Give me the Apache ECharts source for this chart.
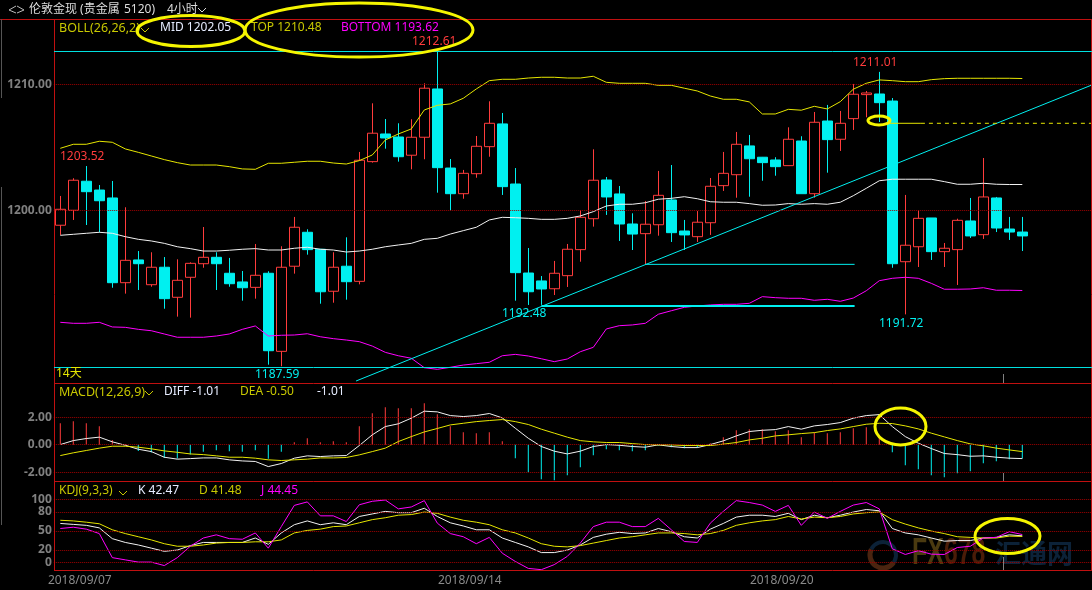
<!DOCTYPE html>
<html>
<head>
<meta charset="utf-8">
<title>伦敦金现 4小时</title>
<style>
html,body{margin:0;padding:0;background:#000;}
#main{width:1092px;height:590px;}
</style>
<script src="https://cdn.jsdelivr.net/npm/echarts@6/dist/echarts.min.js"></script>
</head>
<body>
<div id="main"></div>
<script>
// 4h candles
var opens = [1198.81,1200.00,1202.31,1201.61,1200.98,1194.24,1196.05,1194.08,1195.47,1193.08,1194.67,1195.75,1196.26,1194.99,1194.30,
  1193.87,1194.99,1188.78,1195.55,1198.25,1196.90,1193.56,1195.55,1194.35,1203.87,1206.07,1205.83,1204.38,1205.81,1209.65,
  1203.36,1201.32,1202.91,1205.06,1206.87,1202.09,1195.01,1194.38,1193.76,1194.80,1196.87,1199.33,1202.41,1201.30,1198.91,
  1198.14,1198.85,1200.82,1198.35,1197.90,1199.01,1201.96,1202.83,1205.12,1204.22,1204.00,1203.55,1205.51,1201.32,1207.10,
  1205.65,1207.29,1209.20,1209.25,1208.69,1195.91,1197.10,1199.39,1196.71,1196.87,1199.15,1198.06,1200.98,1198.51,1198.27];
var closes = [1200.08,1202.39,1201.48,1200.76,1194.24,1196.02,1195.75,1195.47,1192.97,1194.43,1195.78,1196.26,1195.75,1194.16,1193.84,
  1194.83,1188.83,1195.47,1198.65,1196.87,1193.52,1195.47,1194.32,1203.98,1206.13,1205.75,1204.26,1205.81,1209.71,1203.39,
  1201.32,1202.94,1205.09,1206.92,1201.88,1195.04,1193.52,1193.74,1194.99,1196.90,1199.44,1202.39,1201.06,1198.91,1198.11,
  1198.89,1201.19,1198.22,1198.04,1199.05,1201.91,1202.94,1205.25,1204.10,1203.79,1203.47,1205.65,1201.32,1207.00,1205.62,
  1206.92,1209.23,1209.33,1208.56,1195.75,1197.22,1199.36,1196.71,1196.98,1199.20,1197.96,1201.06,1198.59,1198.27,1197.96];
var lows = [1198.04,1199.23,1198.83,1198.25,1193.84,1193.37,1193.66,1193.92,1192.17,1191.54,1191.46,1195.43,1193.66,1193.92,1192.81,
  1192.97,1187.72,1187.59,1194.96,1196.47,1192.57,1192.65,1192.89,1194.11,1203.79,1204.90,1203.87,1203.26,1204.06,1201.40,
  1199.97,1200.92,1202.59,1204.26,1201.22,1192.81,1192.47,1192.48,1193.26,1193.90,1195.91,1198.70,1199.63,1197.56,1196.84,
  1195.70,1197.98,1197.48,1196.84,1197.48,1198.04,1201.54,1201.00,1201.08,1202.35,1202.75,1203.55,1201.32,1201.00,1202.99,
  1204.72,1206.39,1207.40,1207.02,1195.43,1191.72,1195.49,1196.05,1195.49,1194.06,1197.80,1197.72,1198.27,1197.64,1196.76];
var highs = [1201.14,1202.55,1203.52,1202.01,1202.33,1200.24,1196.76,1196.66,1196.28,1196.10,1195.86,1198.67,1196.66,1196.21,1195.17,
  1197.32,1195.15,1197.14,1199.47,1198.49,1196.92,1196.66,1197.85,1204.64,1208.51,1207.26,1206.92,1207.24,1210.10,1212.61,
  1204.08,1203.21,1205.91,1208.67,1207.74,1203.36,1197.00,1194.77,1195.97,1197.32,1200.02,1204.85,1202.65,1201.93,1199.76,
  1200.74,1203.13,1203.60,1199.23,1199.94,1202.57,1204.64,1206.23,1205.99,1204.24,1204.22,1206.60,1205.89,1207.82,1208.38,
  1207.90,1210.05,1209.49,1211.01,1208.93,1201.22,1200.02,1199.39,1197.40,1199.33,1200.98,1204.16,1201.06,1199.47,1199.47];

var bollTop = [1204.93,1205.25,1205.25,1205.49,1205.41,1204.88,1204.61,1204.32,1204.03,1203.79,1203.60,1203.60,1203.60,1203.47,1203.29,
  1203.26,1203.74,1203.74,1203.82,1203.90,1203.90,1203.76,1203.68,1203.95,1204.40,1205.59,1206.07,1206.47,1207.98,1208.35,
  1208.46,1208.91,1209.65,1210.31,1210.42,1210.42,1210.52,1210.58,1210.58,1210.52,1210.52,1210.66,1210.18,1210.10,1210.10,
  1210.10,1209.94,1209.94,1209.71,1209.49,1209.09,1208.83,1208.83,1208.62,1207.66,1207.66,1208.03,1207.96,1208.27,1208.06,
  1208.64,1209.63,1210.10,1210.37,1210.31,1210.23,1210.23,1210.39,1210.47,1210.50,1210.50,1210.50,1210.50,1210.50,1210.48];
var bollMid = [1198.01,1198.09,1198.17,1198.25,1198.17,1197.90,1197.69,1197.56,1197.37,1197.10,1196.95,1196.76,1196.76,1196.82,1196.90,
  1196.95,1196.84,1196.84,1196.98,1197.06,1196.90,1196.84,1196.68,1196.76,1196.90,1197.10,1197.24,1197.37,1197.69,1197.77,
  1198.11,1198.38,1198.65,1199.23,1199.44,1199.41,1199.36,1199.28,1199.28,1199.36,1199.55,1199.89,1200.34,1200.48,1200.48,
  1200.60,1200.88,1200.95,1201.08,1200.92,1200.68,1200.64,1200.64,1200.53,1200.40,1200.42,1200.53,1200.48,1200.53,1200.48,
  1200.64,1201.16,1201.75,1202.35,1202.47,1202.47,1202.47,1202.47,1202.28,1202.07,1202.07,1202.15,1202.07,1202.05,1202.05];
var bollBottom = [1191.09,1191.01,1191.01,1191.09,1190.72,1190.69,1190.53,1190.42,1190.16,1189.90,1189.90,1189.90,1190.00,1190.16,1190.53,
  1190.80,1190.00,1190.06,1190.08,1190.18,1189.94,1189.79,1189.68,1189.55,1189.20,1188.70,1188.43,1188.23,1187.48,1187.35,
  1187.51,1187.69,1187.80,1187.91,1188.43,1188.54,1188.41,1188.19,1187.96,1188.17,1188.75,1189.10,1190.56,1190.82,1190.88,
  1191.01,1191.73,1192.01,1192.28,1192.39,1192.47,1192.52,1192.52,1192.60,1193.13,1193.05,1193.00,1193.00,1192.84,1192.92,
  1192.76,1193.02,1193.60,1194.40,1194.59,1194.67,1194.59,1194.19,1193.72,1193.72,1193.74,1193.84,1193.64,1193.64,1193.62];

var macdHist = [1.56,1.71,1.56,1.35,0.35,0.06,-0.45,-0.57,-0.96,-1.00,-0.72,-0.52,-0.40,-0.47,-0.52,
  -0.40,-1.03,-0.52,0.18,0.47,0.18,0.25,0.18,1.35,2.29,2.73,2.65,2.65,3.02,2.22,
  1.35,0.91,0.84,0.91,0.25,-0.98,-2.00,-2.51,-2.58,-2.22,-1.64,-0.76,-0.33,-0.40,-0.47,
  -0.40,-0.08,-0.18,-0.25,-0.21,0.11,0.55,1.05,1.13,1.13,0.98,1.05,0.55,0.88,0.84,
  0.91,1.20,1.27,0.47,-0.55,-1.49,-1.78,-2.22,-2.36,-2.07,-1.93,-1.35,-1.20,-1.05,-1.01];
var macdDiff = [0.01,0.30,0.45,0.55,0.21,-0.04,-0.33,-0.50,-0.91,-1.05,-1.01,-0.96,-0.96,-1.10,-1.18,
  -1.22,-1.59,-1.37,-0.98,-0.81,-0.86,-0.81,-0.79,-0.06,0.72,1.32,1.52,1.93,2.44,2.39,
  2.12,2.05,2.12,2.27,1.95,1.20,0.47,-0.13,-0.47,-0.67,-0.47,-0.13,0.01,-0.04,-0.13,
  -0.18,-0.01,-0.13,-0.21,-0.21,0.01,0.28,0.64,0.96,1.05,1.10,1.32,1.13,1.37,1.47,
  1.61,1.93,2.12,2.19,1.32,0.59,0.11,-0.28,-0.64,-0.72,-0.84,-0.81,-0.91,-0.98,-1.01];
var macdDea = [-0.79,-0.59,-0.42,-0.25,-0.11,-0.11,-0.18,-0.30,-0.45,-0.55,-0.67,-0.72,-0.81,-0.91,-0.91,
  -0.98,-1.10,-1.15,-1.10,-1.05,-0.96,-0.96,-0.93,-0.74,-0.50,-0.25,0.23,0.59,0.93,1.18,
  1.44,1.56,1.68,1.76,1.83,1.68,1.47,1.13,0.84,0.55,0.30,0.21,0.16,0.16,0.08,
  0.01,-0.01,-0.01,-0.06,-0.06,-0.06,0.04,0.16,0.35,0.47,0.64,0.72,0.81,0.88,1.03,
  1.15,1.32,1.49,1.56,1.54,1.37,1.15,0.84,0.57,0.30,0.06,-0.08,-0.25,-0.38,-0.50];

var kdjK = [62,60.5,59,55,38,32,28,23,18,20,27,32,32,32,32,39,29,47,60,66,60,63,60,73,77,81,79,79,86,73,
  63,58,52,52,39,32,25,16,16,20,28,40,45,48,46,47,54,49,41,39,53,62,72,75,75,73,78,68,75,71,
  75,80,84,82,54,47,44,39,34,35,35,39,40,44,42.47];
var kdjD = [67,66,64,61.5,52,46,41,36,30,26,26,28,31,32,32,33,33,36,47,51,53,57,58,63,68,71,75,76,80,78,
  72,67,64,60,52,47,39,30,26,25,27,31,35,39,41,44,47,47,46,44,46,51,59,63,66,68,73,69,72,71,
  73,77,79,80,68,61,55,50,46,41,40,39,39,42,41.48];
var kdjJ = [54,56,53,46,8,4.5,1,1,-4.5,8,26,39,44,38,37,47,23,57,90.5,96,74,74,65,91.5,97,99,85,88,98,62.5,
  46,41,30,40,15,2,-9,-11,-3,10,31,57,64,64,57,57,70,52,33.5,32,62.5,81,98,95,91,81,90.5,59,80,70,
  81,91,95,85,22,13,19,13.5,13,24,26,39,40,49,44.45];

var priceTicks = [1200,1210];
var macdTicks = [2,0,-2];
var kdjTicks = [100,80,50,20,0];
var dateTickSlots = [1.5,31.5,55.5];
var dateTickLabels = ['2018/09/07','2018/09/14','2018/09/20'];

// drawn-on lines: [slot, price] ends
var trendLine = [[22.75,1186.42],[79.36,1209.97]];
var supportHigh = [[45,1195.70],[61.1,1195.70]];
var supportLow = [[37,1192.38],[61.1,1192.38]];
var gapSolid = [[63.8,1206.92],[66.2,1206.92]];
var gapDashed = [[66.2,1206.92],[79.3,1206.92]];

var RED = '#ff3c3c', CYAN = '#00f0f0', YEL = '#e6e600', WHT = '#f2f2f2', MAG = '#ff00ff';
var FONT = '"Noto Sans","Noto Sans CJK SC",sans-serif';

var candles = opens.map(function(o,i){ return [o,closes[i],lows[i],highs[i]]; });
// 5 empty slots on the right of the last candle
var slots = [];
for(var s=0;s<candles.length+5;s++){ slots.push(String(s)); }

function gridLines(ticks,xi,yi){
  return {type:'line',xAxisIndex:xi,yAxisIndex:yi,data:[],z:1,silent:true,
    markLine:{silent:true,symbol:'none',label:{show:false},animation:false,
      lineStyle:{color:'#a00000',type:'dotted',width:1},
      data:ticks.map(function(v){return {yAxis:v};})}};
}
function lineSeries(data,color,xi,yi,w){
  return {type:'line',xAxisIndex:xi,yAxisIndex:yi,data:data,showSymbol:false,symbol:'none',z:3,silent:true,
    lineStyle:{color:color,width:w||1},itemStyle:{color:color}};
}
function drawn(data,color,w,dash){
  var sr = lineSeries(data,color,3,0,w);
  sr.clip = false; sr.z = 4;
  if(dash){ sr.lineStyle.type = [4,4]; }
  return sr;
}
function yAxis(idx,min,max,ticks,fmt){
  return {type:'value',gridIndex:idx,min:min,max:max,position:'left',
    axisLine:{show:false},axisTick:{show:false},splitLine:{show:false},
    axisLabel:{customValues:ticks,color:'#808080',fontWeight:'bold',fontSize:12,fontFamily:FONT,margin:2,formatter:fmt}};
}
function text(str,x,y,color,size,bold){
  return {type:'text',x:x,y:y,z:50,silent:true,style:{text:str,fill:color,font:(bold?'bold ':'')+(size||12)+'px '+FONT,textVerticalAlign:'middle'}};
}
function hline(x1,x2,y,color,w){
  return {type:'line',z:20,silent:true,shape:{x1:x1,y1:y,x2:x2,y2:y},style:{stroke:color,lineWidth:w||1}};
}
function vline(x,y1,y2,color){
  return {type:'line',z:20,silent:true,shape:{x1:x,y1:y1,x2:x,y2:y2},style:{stroke:color,lineWidth:1}};
}
function chev(x,y,color){
  return {type:'polyline',z:50,silent:true,shape:{points:[[x,y],[x+4,y+4],[x+8,y]]},style:{stroke:color,fill:'none',lineWidth:1}};
}
function ring(cx,cy,rx,ry){
  return {type:'ellipse',z:60,silent:true,shape:{cx:cx,cy:cy,rx:rx,ry:ry},style:{fill:'none',stroke:'#f5f500',lineWidth:3}};
}
function mark(str,x,color,font,sx){
  return {type:'text',x:x,y:553.5,z:0,silent:true,scaleX:sx||1,style:{text:str,fill:color,font:font,textVerticalAlign:'middle'}};
}

var graphics = [
  // frame
  hline(0,1092,19.5,'#c01010'), vline(54.5,19,570,'#c01010'), vline(1091.5,19,570,'#c01010'),
  hline(54,1092,51.5,'#00e0e0'), hline(54,1092,367.5,'#00e0e0'),
  hline(54,1092,383.5,'#c01010'), hline(54,1092,481.5,'#c01010'), hline(54,1092,570.5,'#c01010'),
  vline(1.5,19,98,'#555'), vline(1.5,187,525,'#555'),
  vline(1003.5,374,383,'#808080'), vline(1003.5,473,481,'#808080'), vline(1003.5,557,570,'#808080'),
  // title row
  {type:'polyline',z:50,silent:true,shape:{points:[[16,6],[9,10],[16,13]]},style:{stroke:'#bbb',fill:'none',lineWidth:1}},
  {type:'polyline',z:50,silent:true,shape:{points:[[17,6],[24,10],[17,13]]},style:{stroke:'#bbb',fill:'none',lineWidth:1}},
  text('伦敦金现 (贵金属',29,10,'#dcdcdc',12),
  text('5120)',124,10,'#dcdcdc',12),
  text('4小时',167,10,'#dcdcdc',12),
  chev(198,8,'#dcdcdc'),
  // boll row
  text('BOLL(26,26,2)',59,28,'#c8c800',12.5), chev(141,28,'#c8c800'),
  text('MID 1202.05',160,28,'#e6ecff'),
  text('TOP 1210.48',251,28,'#c8c800'),
  text('BOTTOM 1193.62',341,28,MAG),
  // high and low marks
  text('1212.61',412,42,RED), text('1203.52',60,157,RED), text('1211.01',853,63,RED),
  text('1192.48',502,314,CYAN), text('1191.72',879,324,CYAN), text('1187.59',255,375,CYAN),
  text('14天',56,374,'#e6e600'),
  // macd row
  text('MACD(12,26,9)',59,392,'#c8c800',12.5), chev(145,391,'#c8c800'),
  text('DIFF -1.01',164,392,'#e6ecff'),
  text('DEA -0.50',240,392,'#c8c800'),
  text('-1.01',317,392,'#e6ecff'),
  // kdj row
  text('KDJ(9,3,3)',59,491,'#c8c800'), chev(119,491,'#c8c800'),
  text('K 42.47',138,491,'#e6ecff'),
  text('D 41.48',199,491,'#c8c800'),
  text('J 44.45',261,491,MAG),
  // hand drawn rings
  ring(191,31,54,15.5), ring(359,30,114,27), ring(879,120.5,11,4.5),
  ring(900.5,426.5,25.5,18.5), ring(1007.5,536,32.5,17.5),
  // watermark, under the series
  {type:'arc',z:0,silent:true,shape:{cx:883,cy:555,r:13,startAngle:0.6,endAngle:3.6},style:{stroke:'#4a2410',fill:'none',lineWidth:5}},
  {type:'arc',z:0,silent:true,shape:{cx:883,cy:555,r:13,startAngle:3.6,endAngle:6.88},style:{stroke:'#0c2238',fill:'none',lineWidth:4}},
  mark('FX',912,'#4a3a10','bold 37px "Liberation Sans"',0.67),
  mark('678',944,'#4a1c08','bold 37px "Liberation Sans"',0.67),
  mark('汇通网',995,'#0c2238','bold 26px "Noto Sans CJK SC"')
];

var option = {
  backgroundColor:'#000',
  animation:false,
  grid:[
    {left:53.8,width:1040,top:51.5,height:316,outerBoundsMode:'none'},
    {left:53.8,width:1040,top:383,height:98,outerBoundsMode:'none'},
    {left:53.8,width:1040,top:481,height:89,outerBoundsMode:'none'}
  ],
  xAxis:[
    {type:'category',gridIndex:0,data:slots,show:false},
    {type:'category',gridIndex:1,data:slots,show:false},
    {type:'category',gridIndex:2,data:slots,show:false},
    // same slots as plain numbers, for the drawn-on lines
    {type:'value',gridIndex:0,min:-0.5,max:79.5,show:false},
    {type:'value',gridIndex:2,min:-0.5,max:79.5,position:'bottom',
      axisLine:{show:false},axisTick:{show:false},splitLine:{show:false},
      axisLabel:{customValues:dateTickSlots,color:'#8a8a8a',fontSize:12,fontFamily:FONT,margin:5,
        formatter:function(v){return dateTickLabels[dateTickSlots.indexOf(v)];}}}
  ],
  yAxis:[
    yAxis(0,1187.495,1212.63,priceTicks,function(v){return v.toFixed(2);}),
    yAxis(1,-2.64,4.49,macdTicks,function(v){return v.toFixed(2);}),
    yAxis(2,-11.5,129,kdjTicks,function(v){return String(v);})
  ],
  series:[
    gridLines(priceTicks,0,0),
    gridLines(macdTicks,1,1),
    gridLines(kdjTicks,2,2),
    {type:'candlestick',xAxisIndex:0,yAxisIndex:0,data:candles,barWidth:11,z:2,silent:true,
      itemStyle:{color:'rgba(0,0,0,0)',color0:CYAN,borderColor:RED,borderColor0:CYAN,borderWidth:1}},
    lineSeries(bollTop,YEL,0,0),
    lineSeries(bollMid,WHT,0,0),
    Object.assign(lineSeries(bollBottom,MAG,0,0),{clip:false}),
    drawn(trendLine,CYAN,1),
    drawn(supportHigh,CYAN,1),
    drawn(supportLow,CYAN,2),
    drawn(gapSolid,YEL,1),
    drawn(gapDashed,YEL,1,true),
    {type:'bar',xAxisIndex:1,yAxisIndex:1,data:macdHist,barWidth:1,z:2,silent:true,
      itemStyle:{color:function(p){return p.value>=0?RED:CYAN;}}},
    lineSeries(macdDiff,WHT,1,1),
    lineSeries(macdDea,YEL,1,1),
    lineSeries(kdjK,WHT,2,2),
    lineSeries(kdjD,YEL,2,2),
    lineSeries(kdjJ,MAG,2,2),
    // keeps the date axis attached to a series
    {type:'line',xAxisIndex:4,yAxisIndex:2,data:[]}
  ],
  graphic:graphics
};

var myChart = echarts.init(document.getElementById('main'),null,{renderer:'canvas'});
myChart.setOption(option);
</script>
</body>
</html>
